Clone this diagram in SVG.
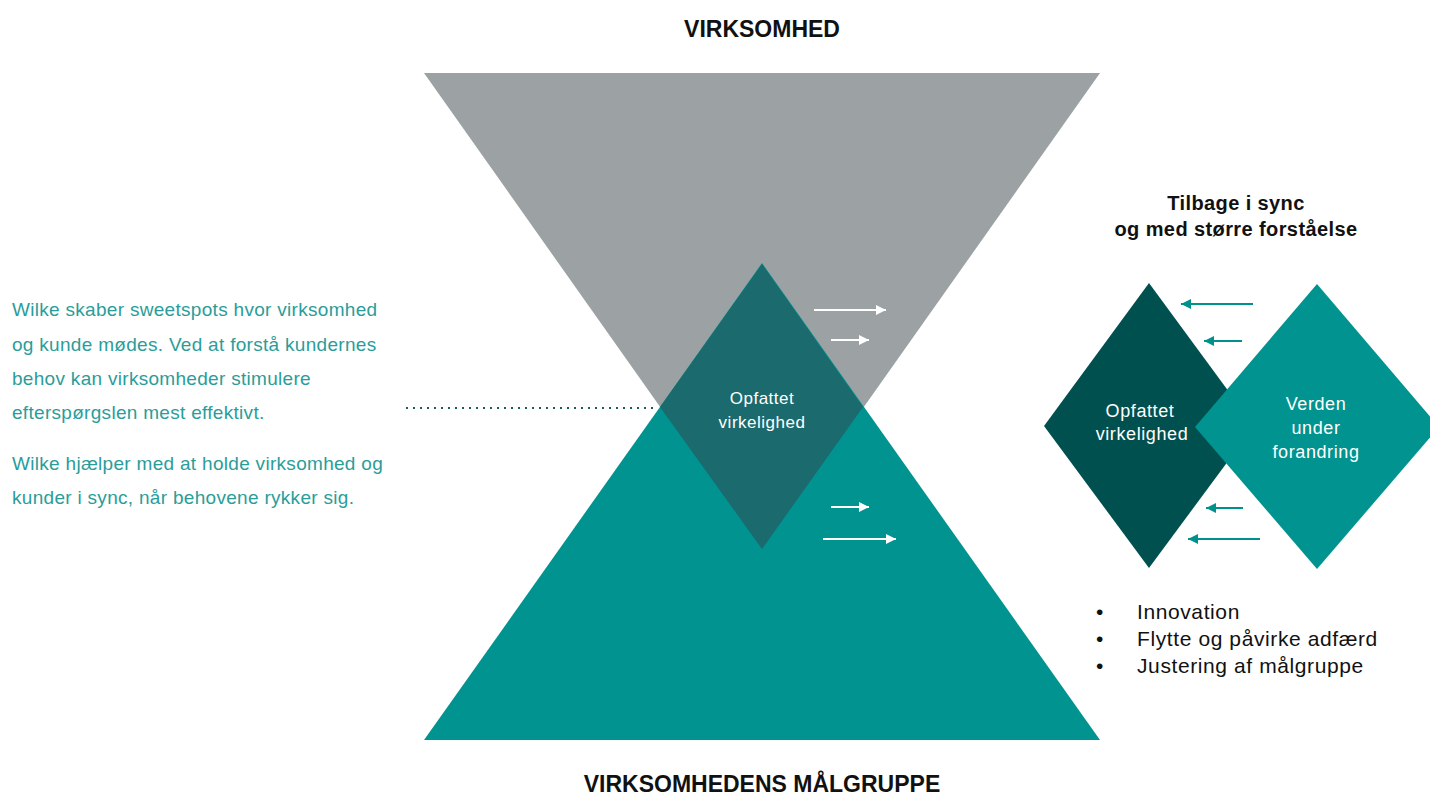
<svg xmlns="http://www.w3.org/2000/svg" width="1430" height="796" viewBox="0 0 1430 796">
<defs>
<style>
.t{font-family:"Liberation Sans",Arial,sans-serif}
.h{font-weight:bold;fill:#111;font-size:23px;text-anchor:middle}
.sub{font-weight:bold;fill:#111;font-size:20px;text-anchor:middle;letter-spacing:0.4px}
.p{fill:#2a9d9a;font-size:19px;letter-spacing:0.3px}
.w{fill:#fff;font-size:17px;text-anchor:middle;letter-spacing:0.5px}
.w2{fill:#fff;font-size:18px;text-anchor:middle;letter-spacing:0.6px}
.b{fill:#111;font-size:21px;letter-spacing:0.6px}
.wa{stroke:#fff;stroke-width:2;fill:none}
.ta{stroke:#00918d;stroke-width:2;fill:none}
</style>
<marker id="mw" viewBox="0 0 10 10" refX="10" refY="5" markerWidth="11" markerHeight="10" markerUnits="userSpaceOnUse" orient="auto"><path d="M0,0L10,5L0,10z" fill="#fff"/></marker>
<marker id="mt" viewBox="0 0 10 10" refX="10" refY="5" markerWidth="11" markerHeight="10" markerUnits="userSpaceOnUse" orient="auto"><path d="M0,0L10,5L0,10z" fill="#00918d"/></marker>
</defs>
<rect width="1430" height="796" fill="#fff"/>
<g id="top-triangle"><polygon points="424,73 1100,73 762,551" fill="#9ca1a3"/></g>
<g id="bottom-triangle"><polygon points="424,740 1100,740 762,263" fill="#00938f"/></g>
<g id="center-diamond"><polygon points="762,264 863,407 762,549 660,407" fill="#1b6a6d"/>
<text class="t w" x="762" y="404">Opfattet</text><text class="t w" x="762" y="428">virkelighed</text></g>
<g id="dark-diamond"><polygon points="1149,283 1254,426 1149,568 1044,426" fill="#00504f"/>
<text class="t w2" x="1140" y="417">Opfattet</text><text class="t w2" x="1142" y="440">virkelighed</text></g>
<g id="teal-diamond"><polygon points="1317,284 1439,427 1317,569 1195,427" fill="#00938f"/>
<text class="t w2" x="1316" y="410">Verden</text><text class="t w2" x="1316" y="434">under</text><text class="t w2" x="1316" y="458">forandring</text></g>
<g id="connectors">
<line x1="406" y1="408" x2="656" y2="408" stroke="#1b5b5c" stroke-width="2" stroke-dasharray="2,5"/>
<line class="wa" x1="814" y1="310" x2="886" y2="310" marker-end="url(#mw)"/>
<line class="wa" x1="831" y1="340" x2="869" y2="340" marker-end="url(#mw)"/>
<line class="wa" x1="831" y1="507" x2="869" y2="507" marker-end="url(#mw)"/>
<line class="wa" x1="823" y1="539" x2="896" y2="539" marker-end="url(#mw)"/>
<line class="ta" x1="1253" y1="304" x2="1181" y2="304" marker-end="url(#mt)"/>
<line class="ta" x1="1242" y1="341" x2="1204" y2="341" marker-end="url(#mt)"/>
<line class="ta" x1="1243" y1="508" x2="1206" y2="508" marker-end="url(#mt)"/>
<line class="ta" x1="1260" y1="539" x2="1188" y2="539" marker-end="url(#mt)"/>
</g>
<text class="t h" x="762" y="37">VIRKSOMHED</text>
<text class="t h" x="762" y="792">VIRKSOMHEDENS MÅLGRUPPE</text>
<text class="t sub" x="1236" y="210">Tilbage i sync</text>
<text class="t sub" x="1236" y="236">og med større forståelse</text>
<g class="t p">
<text x="12" y="316">Wilke skaber sweetspots hvor virksomhed</text>
<text x="12" y="351">og kunde mødes. Ved at forstå kundernes</text>
<text x="12" y="385">behov kan virksomheder stimulere</text>
<text x="12" y="419">efterspørgslen mest effektivt.</text>
<text x="12" y="470">Wilke hjælper med at holde virksomhed og</text>
<text x="12" y="504">kunder i sync, når behovene rykker sig.</text>
</g>
<g class="t b">
<text x="1096" y="619">•</text><text x="1137" y="619">Innovation</text>
<text x="1096" y="646">•</text><text x="1137" y="646">Flytte og påvirke adfærd</text>
<text x="1096" y="673">•</text><text x="1137" y="673">Justering af målgruppe</text>
</g>
</svg>
